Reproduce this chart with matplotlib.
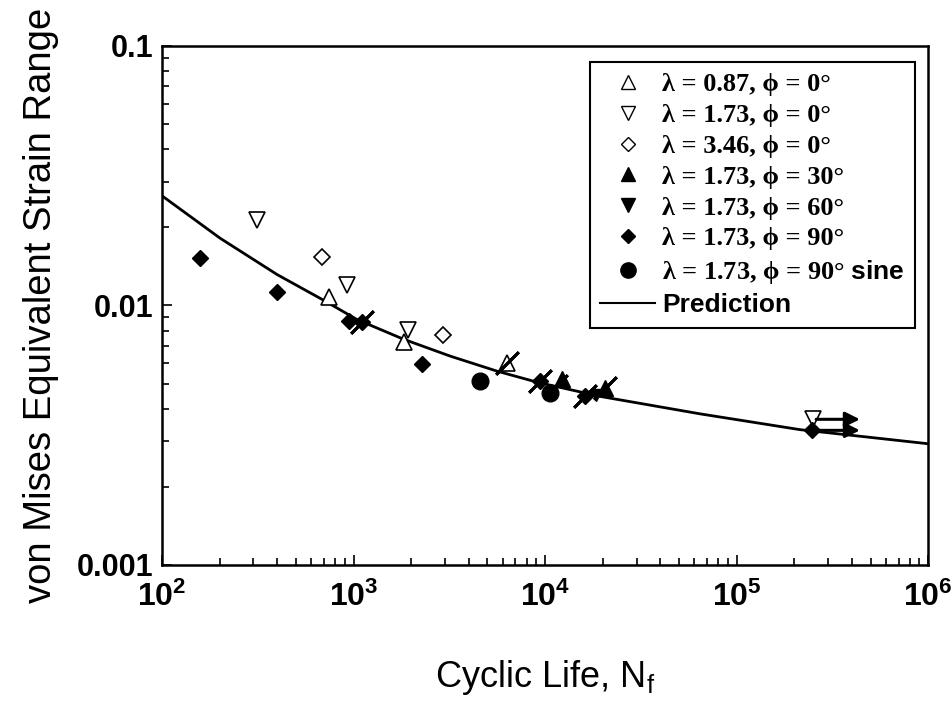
import matplotlib
matplotlib.use("Agg")
import matplotlib.pyplot as plt
from matplotlib.ticker import FixedLocator, NullFormatter, LogLocator
from matplotlib.lines import Line2D

plt.rcParams['mathtext.fontset'] = 'custom'
plt.rcParams['mathtext.rm'] = 'Liberation Sans'
plt.rcParams['mathtext.bf'] = 'Liberation Sans:bold'
plt.rcParams['mathtext.sf'] = 'Liberation Sans:bold'

# ---------------- data ----------------
pred_N = [100, 201, 399, 693, 1043, 1814, 3190, 5615, 9083, 19380, 64480, 214600, 1000000]
pred_eps = [0.02645, 0.01816, 0.01315, 0.01050, 0.00882, 0.00742, 0.00638, 0.00558, 0.00506,
            0.00446, 0.00382, 0.00332, 0.00293]

up_open_N = [745, 1837, 6340]
up_open_eps = [0.01079, 0.00723, 0.00602]

down_open_N = [313, 925, 1928, 250000]
down_open_eps = [0.02143, 0.01194, 0.00805, 0.00364]

diam_open_N = [685, 2930]
diam_open_eps = [0.01542, 0.00766]

up_fill_N = [12280, 20560]
up_fill_eps = [0.00521, 0.00480]

down_fill_N = [18450]
down_fill_eps = [0.00450]

diam_fill_N = [158, 398, 946, 1107, 2282, 9420, 16180, 248000]
diam_fill_eps = [0.01517, 0.01130, 0.00873, 0.00867, 0.00596, 0.00510, 0.00449, 0.00330]

circ_N = [4580, 10620]
circ_eps = [0.00512, 0.00459]

# points crossed by a slash
slash_N = [1107, 6340, 9420, 11400, 16180, 20560]
slash_eps = [0.00867, 0.00602, 0.00510, 0.00490, 0.00449, 0.00480]

# run-outs (start N, eps, end N)
runout_N = [250000, 248000]
runout_eps = [0.00364, 0.00330]
runout_end_N = [440000, 440000]

legend_labels = [
    "λ = 0.87, ϕ = 0°",
    "λ = 1.73, ϕ = 0°",
    "λ = 3.46, ϕ = 0°",
    "λ = 1.73, ϕ = 30°",
    "λ = 1.73, ϕ = 60°",
    "λ = 1.73, ϕ = 90°",
    r"λ = 1.73, ϕ = 90° $\mathsf{sine}$",
    "Prediction",
]

xtick_vals = [1e2, 1e3, 1e4, 1e5, 1e6]
xtick_labels = [r"$\mathbf{10^{2}}$", r"$\mathbf{10^{3}}$", r"$\mathbf{10^{4}}$",
                r"$\mathbf{10^{5}}$", r"$\mathbf{10^{6}}$"]
ytick_vals = [0.001, 0.01, 0.1]
ytick_labels = ["0.001", "0.01", "0.1"]

# ---------------- figure ----------------
fig = plt.figure(figsize=(9.53, 7.07), dpi=100)
ax = fig.add_axes([0.170, 0.201, 0.804, 0.734])
ax.set_xscale('log')
ax.set_yscale('log')
ax.set_xlim(1e2, 1e6)
ax.set_ylim(1e-3, 1e-1)

k = dict(linestyle='none', color='black', markeredgecolor='black')
ax.plot(up_open_N, up_open_eps, marker='^', ms=11, mfc='white', mew=1.2, zorder=4, **k)
ax.plot(down_open_N, down_open_eps, marker='v', ms=11, mfc='white', mew=1.2, zorder=4, **k)
ax.plot(diam_open_N, diam_open_eps, marker='D', ms=8, mfc='white', mew=1.2, zorder=4, **k)
ax.plot(up_fill_N, up_fill_eps, marker='^', ms=11, mfc='black', zorder=4, **k)
ax.plot(down_fill_N, down_fill_eps, marker='v', ms=9, mfc='black', zorder=4, **k)
ax.plot(diam_fill_N, diam_fill_eps, marker='D', ms=8.5, mfc='black', zorder=4, **k)
ax.plot(circ_N, circ_eps, marker='o', ms=12, mfc='black', zorder=4, **k)
ax.plot(pred_N, pred_eps, color='black', lw=2, zorder=3)
ax.plot(slash_N, slash_eps, linestyle='none', marker=(2, 2, -45), ms=23, mew=2,
        color='black', zorder=5)

for n0, e0, n1 in zip(runout_N, runout_eps, runout_end_N):
    ax.annotate('', xy=(n1, e0), xytext=(n0 * 1.04, e0),
                arrowprops=dict(arrowstyle='-|>', lw=2.2, color='black',
                                mutation_scale=22, shrinkA=0, shrinkB=0), zorder=5)

handles = [
    Line2D([], [], marker='^', ms=10, mfc='white', mec='black', mew=1.0, ls='none'),
    Line2D([], [], marker='v', ms=10, mfc='white', mec='black', mew=1.0, ls='none'),
    Line2D([], [], marker='D', ms=7, mfc='white', mec='black', mew=1.0, ls='none'),
    Line2D([], [], marker='^', ms=10, mfc='black', mec='black', ls='none'),
    Line2D([], [], marker='v', ms=10, mfc='black', mec='black', ls='none'),
    Line2D([], [], marker='D', ms=7, mfc='black', mec='black', ls='none'),
    Line2D([], [], marker='o', ms=11, mfc='black', mec='black', ls='none'),
    Line2D([], [], color='black', lw=1.5),
]
leg = ax.legend(handles, legend_labels, loc='upper right', bbox_to_anchor=(0.983, 0.969),
                borderaxespad=0, fancybox=False, framealpha=1, edgecolor='black',
                prop=dict(family=['Liberation Serif', 'DejaVu Serif'], size=19, weight='bold'),
                handlelength=2.1, handletextpad=0.25, labelspacing=0.28,
                borderpad=0.4)
leg.get_frame().set_linewidth(1.5)
leg.get_texts()[-1].set_family('Liberation Sans')

# ticks
ax.xaxis.set_major_locator(FixedLocator(xtick_vals))
ax.set_xticklabels(xtick_labels)
ax.yaxis.set_major_locator(FixedLocator(ytick_vals))
ax.set_yticklabels(ytick_labels)
ax.xaxis.set_minor_locator(LogLocator(base=10, subs=range(2, 10)))
ax.yaxis.set_minor_locator(LogLocator(base=10, subs=range(2, 10)))
ax.xaxis.set_minor_formatter(NullFormatter())
ax.yaxis.set_minor_formatter(NullFormatter())
ax.tick_params(which='both', direction='in', top=False, right=False, width=1.2)
ax.tick_params(which='major', length=7)
ax.tick_params(which='minor', length=5)
ax.tick_params(axis='x', which='major', pad=12, labelsize=23)
ax.tick_params(axis='y', which='major', pad=6)
for t in ax.get_yticklabels():
    t.set_family('Liberation Sans')
    t.set_fontweight('bold')
    t.set_fontsize(22)
for s in ax.spines.values():
    s.set_linewidth(1.8)

ax.set_xlabel(r"Cyclic Life, N$_\mathrm{f}$", fontsize=26, family='Liberation Sans')
ax.xaxis.set_label_coords(0.5, -0.18)
ax.set_ylabel("von Mises Equivalent Strain Range", fontsize=27.5, family='Liberation Sans')
ax.yaxis.set_label_coords(-0.135, 0.5)

fig.savefig("out.png", dpi=100)
